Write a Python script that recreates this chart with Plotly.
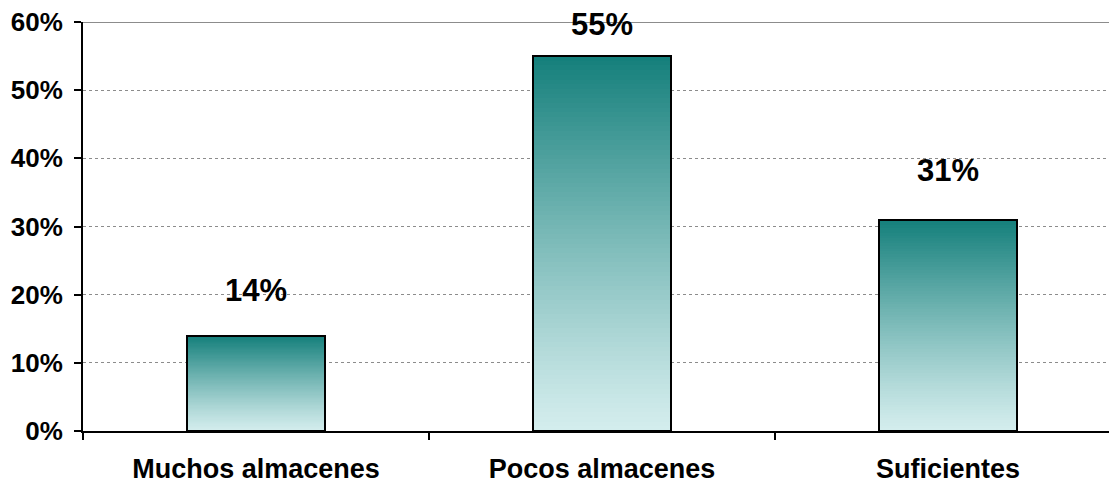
import plotly.graph_objects as go

# Survey results: perception of the number of stores
categories = ["Muchos almacenes", "Pocos almacenes", "Suficientes"]
shares = [14, 55, 31]           # percent
value_labels = ["14%", "55%", "31%"]
y_ticks = [0, 10, 20, 30, 40, 50, 60]
y_tick_labels = ["0%", "10%", "20%", "30%", "40%", "50%", "60%"]

FONT = "Arial, Liberation Sans, sans-serif"
BAR_W = 0.4
N_SLICES = 80
TOP_RGB = (20, 127, 123)
BOTTOM_RGB = (212, 237, 237)
label_lift = [45, 32, 49]       # px between bar top and label centre


def shade(t):
    # t = 0 at the bottom of a bar, 1 at its top
    t = t ** 1.15
    return "rgb({},{},{})".format(
        *[round(b + (a - b) * t) for a, b in zip(TOP_RGB, BOTTOM_RGB)]
    )


# vertical gradient: each bar split into thin stacked slices
xs, bases, heights, colors = [], [], [], []
for cat, v in zip(categories, shares):
    step = v / N_SLICES
    for i in range(N_SLICES):
        xs.append(cat)
        bases.append(i * step)
        heights.append(step * 1.02)
        colors.append(shade((i + 0.5) / N_SLICES))

fig = go.Figure()
fig.add_trace(go.Bar(
    x=xs, y=heights, base=bases, width=BAR_W,
    marker=dict(color=colors, line=dict(width=0)),
    hoverinfo="skip", showlegend=False,
))
# black outline of each bar
fig.add_trace(go.Bar(
    x=categories, y=shares, width=BAR_W,
    marker=dict(color="rgba(0,0,0,0)", line=dict(color="black", width=2)),
    showlegend=False,
))

for cat, v, lab, lift in zip(categories, shares, value_labels, label_lift):
    fig.add_annotation(
        x=cat, y=v, text=f"<b>{lab}</b>", showarrow=False,
        yanchor="middle", yshift=lift,
        font=dict(family=FONT, size=31, color="black"),
    )

# solid top border at 60%
fig.add_shape(type="line", xref="paper", yref="y", x0=0, x1=1, y0=60, y1=60,
              line=dict(color="#8c8c8c", width=2))

fig.update_layout(
    width=1109, height=483,
    margin=dict(l=83, r=0, t=22, b=52),
    paper_bgcolor="white", plot_bgcolor="white",
    barmode="overlay", bargap=0,
    font=dict(family=FONT, color="black"),
    xaxis=dict(
        range=[-0.5, 2.465],
        showgrid=False, showline=True, linecolor="black", linewidth=2,
        ticks="outside", tickson="boundaries", ticklen=7, tickwidth=2,
        tickcolor="black",
        tickfont=dict(family=FONT, size=27, color="black"),
        ticklabelstandoff=13,
        tickvals=categories,
        ticktext=[f"<b>{c}</b>" for c in categories],
        fixedrange=True,
    ),
    yaxis=dict(
        range=[0, 60],
        tickvals=y_ticks, ticktext=[f"<b>{t}</b>" for t in y_tick_labels],
        showgrid=True, gridcolor="#8c8c8c", gridwidth=1, griddash="dot",
        showline=True, linecolor="black", linewidth=2,
        ticks="outside", ticklen=7, tickwidth=2, tickcolor="black",
        tickfont=dict(family=FONT, size=26, color="black"),
        ticklabelstandoff=6,
        zeroline=False, fixedrange=True,
    ),
)

fig.write_html("out.html")
